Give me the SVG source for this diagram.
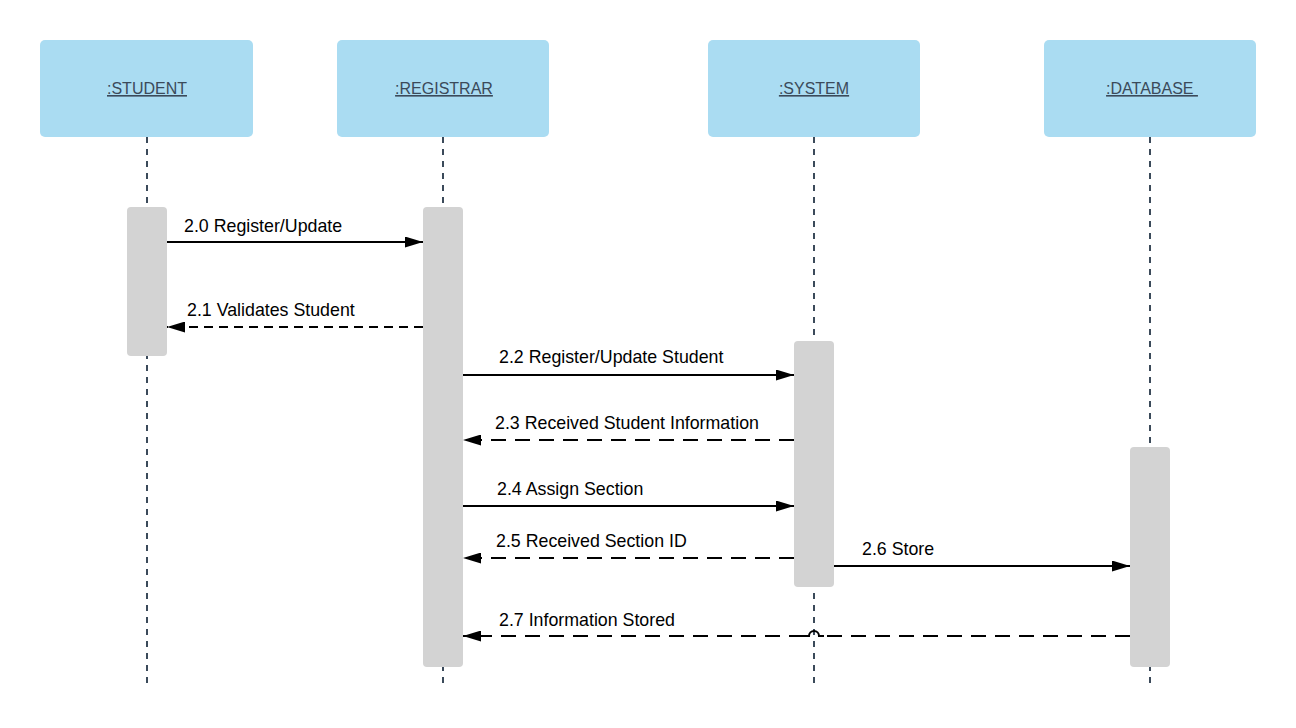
<svg xmlns="http://www.w3.org/2000/svg" width="1296" height="728" viewBox="0 0 1296 728">
  <defs>
    <marker id="head" viewBox="0 0 18 11" refX="18" refY="5.5" markerWidth="18" markerHeight="11" markerUnits="userSpaceOnUse" orient="auto">
      <path d="M0,0 L18,5.5 L0,11 Z" fill="#000"/>
    </marker>
  </defs>
  <style>
    .actor { fill: #aadcf2; }
    .actor-label { font-family: "Liberation Sans", Arial, sans-serif; font-size: 16px; fill: #3b4a5a; text-anchor: middle; text-decoration: underline; }
    .lifeline { stroke: #3b4a5a; stroke-width: 2; stroke-dasharray: 6 6; fill: none; }
    .bar { fill: #d3d3d3; }
    .msg { stroke: #000; stroke-width: 2; fill: none; marker-end: url(#head); }
    .reply { stroke-dasharray: 15 9; }
    .reply-short { stroke-dasharray: 9 6; }
    .hop { stroke: #000; stroke-width: 2; fill: none; }
    .msg-label { font-family: "Liberation Sans", Arial, sans-serif; font-size: 17.8px; fill: #000; }
  </style>
  <rect width="1296" height="728" fill="#fff"/>

  <!-- lifelines -->
  <g id="lifelines">
    <line class="lifeline" x1="147" y1="137" x2="147" y2="689"/>
    <line class="lifeline" x1="443" y1="137" x2="443" y2="689"/>
    <line class="lifeline" x1="814" y1="137" x2="814" y2="689"/>
    <line class="lifeline" x1="1150" y1="137" x2="1150" y2="689"/>
  </g>

  <!-- participants -->
  <g id="student">
    <rect class="actor" x="40" y="40" width="213" height="97" rx="5"/>
    <text class="actor-label" x="147" y="94">:STUDENT</text>
    <rect class="bar" x="127" y="207" width="40" height="149" rx="4"/>
  </g>
  <g id="registrar">
    <rect class="actor" x="337" y="40" width="212" height="97" rx="5"/>
    <text class="actor-label" x="444" y="94">:REGISTRAR</text>
    <rect class="bar" x="423" y="207" width="40" height="460" rx="4"/>
  </g>
  <g id="system">
    <rect class="actor" x="708" y="40" width="212" height="97" rx="5"/>
    <text class="actor-label" x="814" y="94">:SYSTEM</text>
    <rect class="bar" x="794" y="341" width="40" height="246" rx="4"/>
  </g>
  <g id="database">
    <rect class="actor" x="1044" y="40" width="212" height="97" rx="5"/>
    <text class="actor-label" x="1152" y="94" xml:space="preserve">:DATABASE </text>
    <rect class="bar" x="1130" y="447" width="40" height="220" rx="4"/>
  </g>

  <!-- messages -->
  <g id="connectors">
    <line class="msg" x1="167" y1="242" x2="423" y2="242"/>
    <line class="msg reply-short" x1="423" y1="327" x2="167" y2="327"/>
    <line class="msg" x1="463" y1="375" x2="794" y2="375"/>
    <line class="msg reply" x1="794" y1="440" x2="463" y2="440"/>
    <line class="msg" x1="463" y1="506" x2="794" y2="506"/>
    <line class="msg reply" x1="794" y1="558" x2="463" y2="558"/>
    <line class="msg" x1="834" y1="566" x2="1130" y2="566"/>
    <!-- 2.7 return crosses the SYSTEM lifeline with a small hop -->
    <line class="hop reply" x1="1130" y1="636" x2="824" y2="636"/>
    <path class="hop" d="M824,636 L819,636 A5,5 0 0 0 809,636 L804,636"/>
    <line class="msg reply" x1="804" y1="636" x2="463" y2="636"/>
  </g>

  <g id="labels">
    <text class="msg-label" x="184" y="232">2.0 Register/Update</text>
    <text class="msg-label" x="187" y="316">2.1 Validates Student</text>
    <text class="msg-label" x="499" y="363">2.2 Register/Update Student</text>
    <text class="msg-label" x="495" y="429">2.3 Received Student Information</text>
    <text class="msg-label" x="497" y="495">2.4 Assign Section</text>
    <text class="msg-label" x="496" y="547">2.5 Received Section ID</text>
    <text class="msg-label" x="862" y="555">2.6 Store</text>
    <text class="msg-label" x="499" y="626">2.7 Information Stored</text>
  </g>
</svg>
